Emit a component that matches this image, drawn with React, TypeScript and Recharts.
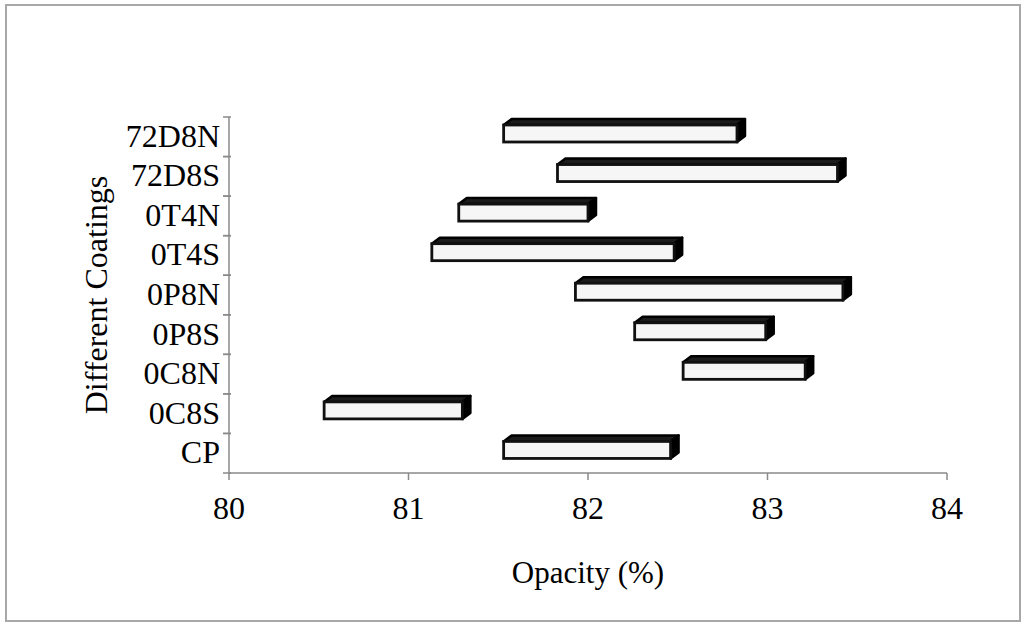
import React from 'react';
import { BarChart, Bar, XAxis, YAxis } from 'recharts';

// coating names, top to bottom
const coatings = ['72D8N', '72D8S', '0T4N', '0T4S', '0P8N', '0P8S', '0C8N', '0C8S', 'CP'];
// opacity range per coating (%)
const opacityLow = [81.53, 81.83, 81.28, 81.13, 81.93, 82.26, 82.53, 80.53, 81.53];
const opacityHigh = [82.83, 83.39, 82.0, 82.48, 83.42, 82.99, 83.21, 81.3, 82.46];
const opacityTicks = [80, 81, 82, 83, 84];

const FONT = "'Liberation Serif', 'Times New Roman', serif";
const AXIS_COLOR = '#8a8a8a';

const data = coatings.map((name, i) => ({
  name,
  range: [opacityLow[i], opacityHigh[i]],
}));

// Excel-style 3D box: light front face, dark top and right end
const Box3D = (props: any) => {
  const { x, y, width, height } = props;
  if (width == null || height == null) return null;
  const dx = 8;
  const dy = 6;
  const lift = 6;
  const fy = y + dy - lift;
  const fh = height - dy;
  const top = `${x},${fy} ${x + dx},${fy - dy} ${x + width + dx},${fy - dy} ${x + width},${fy}`;
  const side = `${x + width},${fy} ${x + width + dx},${fy - dy} ${x + width + dx},${fy + fh - dy} ${x + width},${fy + fh}`;
  return (
    <g>
      <polygon points={top} fill="#1c1c1c" stroke="#000" strokeWidth={2.5} strokeLinejoin="round" />
      <polygon points={side} fill="#000" stroke="#000" strokeWidth={2.5} strokeLinejoin="round" />
      <rect x={x} y={fy} width={width} height={fh} fill="#f6f6f6" stroke="#111" strokeWidth={2.8} />
    </g>
  );
};

// category label plus tick marks on the band edges
const CoatingTick = (props: any) => {
  const { x, y, payload } = props;
  const half = payload.offset ?? 0;
  return (
    <g>
      <line x1={x + 2} x2={x + 10} y1={y - half} y2={y - half} stroke={AXIS_COLOR} strokeWidth={1.5} />
      <line x1={x + 2} x2={x + 10} y1={y + half} y2={y + half} stroke={AXIS_COLOR} strokeWidth={1.5} />
      <text x={x - 1} y={y + 10} textAnchor="end" fontFamily={FONT} fontSize={32} fill="#000">
        {payload.value}
      </text>
    </g>
  );
};

const YTitle = ({ viewBox }: any) => {
  const cx = viewBox.x + 107;
  const cy = viewBox.y + viewBox.height / 2;
  return (
    <text x={cx} y={cy} transform={`rotate(-90, ${cx}, ${cy})`} textAnchor="middle" fontFamily={FONT} fontSize={32} fill="#000">
      Different Coatings
    </text>
  );
};

const XTitle = ({ viewBox }: any) => {
  const cx = viewBox.x + viewBox.width / 2;
  return (
    <text x={cx} y={viewBox.y + 110} textAnchor="middle" fontFamily={FONT} fontSize={31} fill="#000">
      Opacity (%)
    </text>
  );
};

export default function App() {
  return (
    <div style={{ position: 'absolute', left: 0, top: 0, width: 1023, height: 624, background: '#fff' }}>
      <div
        style={{
          position: 'absolute',
          left: 5,
          top: 4,
          width: 1016,
          height: 618,
          border: '2px solid #a8a8a8',
          boxSizing: 'border-box',
        }}
      />
      <BarChart
        width={1023}
        height={624}
        data={data}
        layout="vertical"
        margin={{ top: 117, right: 76, bottom: 21, left: 0 }}
        barSize={23}
        style={{ position: 'absolute', left: 0, top: 0 }}
      >
        <XAxis
          type="number"
          domain={[80, 84]}
          ticks={opacityTicks}
          interval={0}
          height={130}
          stroke={AXIS_COLOR}
          strokeWidth={1.5}
          tickSize={7}
          tickMargin={16}
          tick={{ fill: '#000', fontSize: 32, fontFamily: FONT }}
          label={<XTitle />}
        />
        <YAxis
          type="category"
          dataKey="name"
          width={229}
          stroke={AXIS_COLOR}
          strokeWidth={1.5}
          tickLine={false}
          interval={0}
          tick={<CoatingTick />}
          label={<YTitle />}
        />
        <Bar dataKey="range" shape={<Box3D />} isAnimationActive={false} />
      </BarChart>
    </div>
  );
}
